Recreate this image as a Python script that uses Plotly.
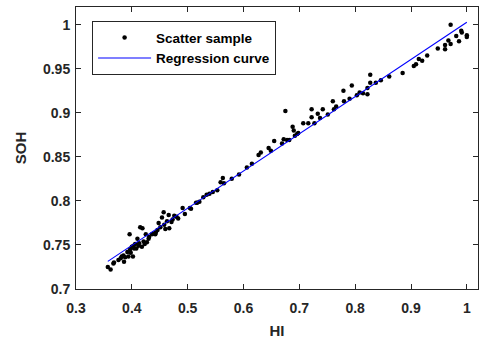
import numpy as np
import plotly.graph_objects as go

# Scatter sample: health indicator (HI) vs state of health (SOH)
hi = [0.357, 0.362, 0.367, 0.368, 0.376, 0.380, 0.382, 0.385, 0.386, 0.388,
      0.392, 0.396, 0.394, 0.397, 0.398, 0.400, 0.402, 0.403, 0.404, 0.406,
      0.408, 0.410, 0.412, 0.413, 0.415, 0.418, 0.419, 0.421, 0.423, 0.425,
      0.427, 0.430, 0.431, 0.436, 0.439, 0.442, 0.443, 0.446, 0.448, 0.451,
      0.454, 0.457, 0.460, 0.458, 0.463, 0.466, 0.467, 0.471, 0.473, 0.476,
      0.480, 0.483, 0.491, 0.495, 0.504, 0.506, 0.515, 0.517, 0.521, 0.528,
      0.534, 0.539, 0.545, 0.553, 0.559, 0.563, 0.565, 0.579, 0.592, 0.606,
      0.615, 0.627, 0.631, 0.645, 0.649, 0.655, 0.669, 0.672, 0.675, 0.678,
      0.682, 0.688, 0.690, 0.692, 0.696, 0.698, 0.707, 0.716, 0.722, 0.722,
      0.727, 0.733, 0.737, 0.742, 0.751, 0.760, 0.762, 0.766, 0.779, 0.780,
      0.790, 0.794, 0.803, 0.808, 0.814, 0.822, 0.822, 0.827, 0.827, 0.837,
      0.846, 0.861, 0.885, 0.905, 0.909, 0.914, 0.920, 0.929, 0.948, 0.961,
      0.961, 0.967, 0.971, 0.971, 0.981, 0.986, 0.990, 0.991, 1.000, 1.000]
soh = [0.725, 0.722, 0.729, 0.730, 0.733, 0.735, 0.737, 0.738, 0.731, 0.736,
       0.742, 0.762, 0.737, 0.745, 0.741, 0.748, 0.737, 0.749, 0.746, 0.751,
       0.746, 0.757, 0.749, 0.752, 0.770, 0.748, 0.769, 0.754, 0.751, 0.762,
       0.753, 0.757, 0.759, 0.762, 0.763, 0.762, 0.764, 0.767, 0.775, 0.770,
       0.781, 0.787, 0.768, 0.773, 0.777, 0.784, 0.769, 0.776, 0.779, 0.783,
       0.782, 0.780, 0.792, 0.785, 0.792, 0.791, 0.798, 0.798, 0.799, 0.804,
       0.807, 0.808, 0.810, 0.812, 0.821, 0.826, 0.820, 0.825, 0.830, 0.838,
       0.842, 0.852, 0.855, 0.860, 0.857, 0.868, 0.865, 0.870, 0.902, 0.869,
       0.869, 0.884, 0.880, 0.874, 0.876, 0.877, 0.888, 0.888, 0.904, 0.895,
       0.888, 0.899, 0.894, 0.904, 0.898, 0.913, 0.904, 0.907, 0.925, 0.913,
       0.916, 0.931, 0.920, 0.923, 0.922, 0.928, 0.921, 0.943, 0.934, 0.934,
       0.937, 0.941, 0.945, 0.953, 0.955, 0.961, 0.959, 0.965, 0.973, 0.977,
       0.972, 0.982, 1.000, 0.978, 0.987, 0.981, 0.993, 0.991, 0.988, 0.986]

# Regression curve coefficients (slope, intercept)
fit_coef = [0.4219, 0.5807]

x_ticks = [0.3, 0.4, 0.5, 0.6, 0.7, 0.8, 0.9, 1.0]
x_tick_text = ["0.3", "0.4", "0.5", "0.6", "0.7", "0.8", "0.9", "1"]
y_ticks = [0.7, 0.75, 0.8, 0.85, 0.9, 0.95, 1.0]
y_tick_text = ["0.7", "0.75", "0.8", "0.85", "0.9", "0.95", "1"]

x_line = np.array([min(hi), max(hi)])
y_line = np.polyval(fit_coef, x_line)

FONT = "Arial, 'Liberation Sans', Helvetica, sans-serif"
AX = "#262626"

fig = go.Figure()
fig.add_trace(go.Scatter(
    x=hi, y=soh, mode="markers", name="Scatter sample",
    marker=dict(color="black", size=4.5, line=dict(width=0)),
))
fig.add_trace(go.Scatter(
    x=x_line, y=y_line, mode="lines", name="Regression curve",
    line=dict(color="#0000ff", width=1.1),
))

axis_common = dict(
    showgrid=False, zeroline=False, showline=True, linecolor=AX, linewidth=1,
    mirror="allticks", ticks="inside", ticklen=5, tickcolor=AX, tickwidth=1,
    tickfont=dict(family=FONT, size=14, color=AX, weight="bold"),
)

fig.update_xaxes(
    range=[0.3, 1.02], tickvals=x_ticks, ticktext=x_tick_text,
    ticklabelstandoff=6,
    title=dict(text="HI", font=dict(family=FONT, size=15, color=AX, weight="bold"),
               standoff=10),
    **axis_common,
)
fig.update_yaxes(
    range=[0.7, 1.02], tickvals=y_ticks, ticktext=y_tick_text,
    ticklabelstandoff=2,
    title=dict(text="SOH", font=dict(family=FONT, size=15, color=AX, weight="bold"),
               standoff=12),
    **axis_common,
)

fig.update_layout(
    width=479, height=342,
    margin=dict(l=76, r=1, t=7, b=53),
    paper_bgcolor="white", plot_bgcolor="white",
    font=dict(family=FONT, color=AX),
    legend=dict(
        x=0.04, y=0.95, xanchor="left", yanchor="top",
        bgcolor="white", bordercolor=AX, borderwidth=1,
        font=dict(family=FONT, size=13.5, color="black", weight="bold"),
        itemwidth=53, tracegroupgap=0,
    ),
    showlegend=True,
)

fig.write_html("out.html")
